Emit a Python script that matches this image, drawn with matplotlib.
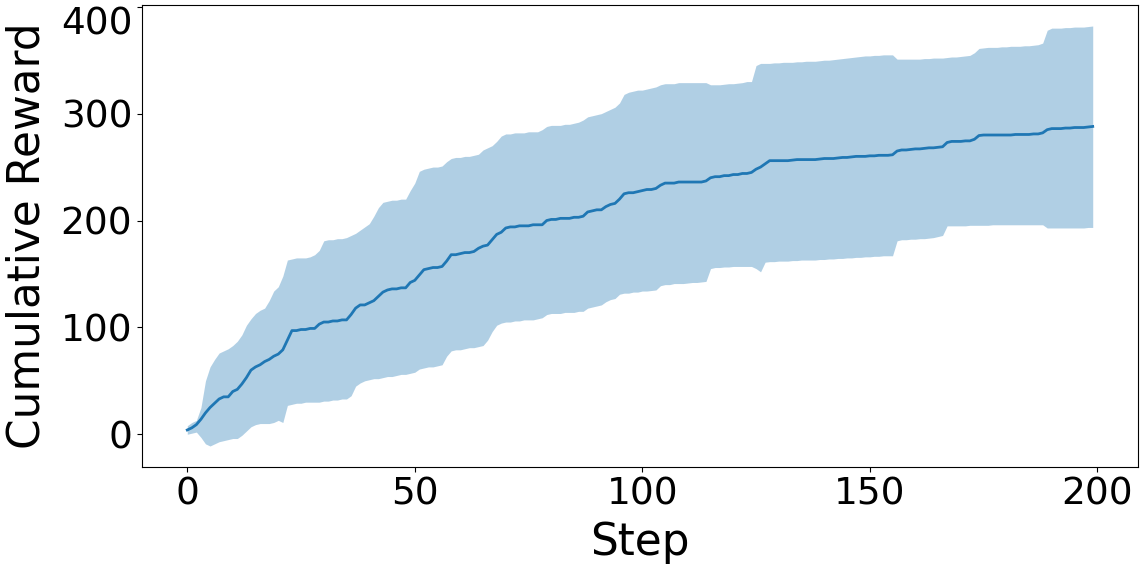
import matplotlib
matplotlib.use("Agg")
import matplotlib.pyplot as plt
import numpy as np

# mean cumulative reward per step, with lower / upper band
mean_reward = [
    4, 6, 9, 14, 20, 25, 29, 33, 35, 35,
    40, 42, 47, 53, 60, 63, 65, 68, 70, 73,
    75, 79, 88, 97, 97, 98, 98, 99, 99, 103,
    105, 105, 106, 106, 107, 107, 112, 118, 121, 121,
    123, 125, 129, 133, 135, 136, 136, 137, 137, 142,
    144, 149, 154, 155, 156, 156, 157, 162, 168, 168,
    169, 170, 170, 171, 174, 176, 177, 182, 187, 189,
    193, 194, 194, 195, 195, 195, 196, 196, 196, 200,
    201, 201, 202, 202, 202, 203, 203, 204, 208, 209,
    210, 210, 213, 215, 216, 220, 225, 226, 226, 227,
    228, 229, 229, 230, 233, 235, 235, 235, 236, 236,
    236, 236, 236, 236, 237, 240, 241, 241, 242, 242,
    243, 243, 244, 244, 245, 248, 250, 253, 256, 256,
    256, 256, 256, 256.5, 257, 257, 257, 257, 257, 257.5,
    258, 258, 258, 258.5, 259, 259, 259.5, 260, 260, 260,
    260.5, 260.5, 261, 261, 261, 261.5, 265, 266, 266, 266.5,
    267, 267, 267.5, 268, 268, 268.5, 269, 273, 274, 274,
    274, 274.5, 274.5, 276, 279.5, 280, 280, 280, 280, 280,
    280, 280, 280.5, 280.5, 280.5, 280.5, 281, 281, 282, 285,
    286, 286, 286, 286.5, 286.5, 287, 287, 287, 287.5, 288,
]
upper_reward = [
    8, 11, 13, 25, 50, 63, 70, 76, 78, 80,
    83, 87, 93, 102, 108, 113, 116, 118, 125, 134,
    138, 148, 163, 164, 165, 165, 165, 166, 168, 172,
    181, 182, 182, 183, 183, 184, 186, 188, 191, 194,
    197, 204, 212, 217, 218, 219, 219, 220, 220, 228,
    235, 246, 248, 249, 250, 250, 251, 255, 258, 259,
    259, 260, 260, 261, 262, 266, 268, 270, 274, 279,
    281, 281, 282, 282, 282, 283, 283, 283, 285, 288,
    289, 289, 289, 290, 290, 291, 292, 294, 297, 298,
    299, 300, 302, 304, 306, 310, 318, 320, 321, 322,
    322, 323, 324, 325, 327, 328, 328, 328, 329, 329,
    329, 329, 329, 329, 329, 327, 327, 327, 327.5, 328,
    328, 328.5, 329, 330, 330, 345, 347, 347, 347, 347.5,
    347.5, 348, 348, 348, 348.5, 348.5, 349, 349, 349, 349.5,
    350, 350, 350.5, 351, 351.5, 352, 352.5, 353, 353.5, 354,
    354, 354.5, 354.5, 355, 355, 355, 351, 351, 351, 351,
    351, 351, 351.5, 351.5, 352, 352, 352, 352.5, 353, 353,
    353.5, 354, 354.5, 357, 361, 361.5, 362, 362, 362, 362.5,
    362.5, 363, 363, 363, 363.5, 363.5, 364, 364.5, 366, 378,
    380, 380, 380, 380.5, 380.5, 381, 381, 381, 381.5, 382,
]
lower_reward = [
    0, 1, 2, -3, -9, -11, -9, -7, -6, -5,
    -4, -4, -1, 3, 7, 9, 10, 10, 10, 11,
    13, 11, 27, 28, 29, 29, 30, 30, 30, 30,
    31, 31, 32, 32, 33, 33, 36, 45, 48, 50,
    51, 52, 52, 53, 54, 54, 55, 56, 56, 57,
    58, 61, 62, 63, 63, 64, 65, 73, 78, 79,
    79, 80, 81, 81, 82, 83, 88, 96, 102, 104,
    105, 105, 106, 106, 107, 107, 107, 108, 109, 112,
    113, 113, 113, 114, 114, 114, 115, 115, 118, 119,
    120, 121, 124, 126, 127, 131, 132, 132, 133, 133,
    134, 134, 134.5, 135, 139, 140, 140, 141, 141, 141,
    141.5, 142, 142, 142.5, 143, 155, 156, 156, 156.5, 156.5,
    157, 157, 157, 157, 157, 155, 152, 161, 161.5, 161.5,
    162, 162, 162, 162.5, 162.5, 163, 163, 163, 163, 163.5,
    163.5, 164, 164, 164.5, 164.5, 165, 165, 165.5, 165.5, 166,
    166, 166.5, 166.5, 167, 167, 167, 181, 182, 182, 182.5,
    182.5, 183, 183, 183.5, 184, 185, 186, 195, 195, 195,
    195, 195, 195.5, 195.5, 195.5, 195.5, 195.5, 196, 196, 196,
    196, 196, 196, 196, 196, 196, 196, 196, 196, 193,
    193, 193, 193, 193, 193, 193, 193, 193, 193.5, 193.5,
]
steps = np.arange(len(mean_reward))

fig = plt.figure(figsize=(11.42, 5.72), dpi=100)
W, H = 1142, 572
ax = fig.add_axes([142/W, 1 - 467/H, (1138-142)/W, (467-5)/H])

ax.fill_between(steps, lower_reward, upper_reward, color="#1f77b4", alpha=0.35, lw=0)
ax.plot(steps, mean_reward, color="#1f77b4", lw=2)

ax.set_yticks([0, 100, 200, 300, 400])
ax.set_xticks([0, 50, 100, 150, 200])
ax.tick_params(labelsize=27)
ax.set_xlabel("Step", fontsize=31.5, labelpad=6)
ax.set_ylabel("Cumulative Reward", fontsize=31.5, labelpad=9)
# top label sits just under the frame edge, as in the source
ax.get_yticklabels()[-1].set_va("top")

fig.savefig("out.png", dpi=100)
